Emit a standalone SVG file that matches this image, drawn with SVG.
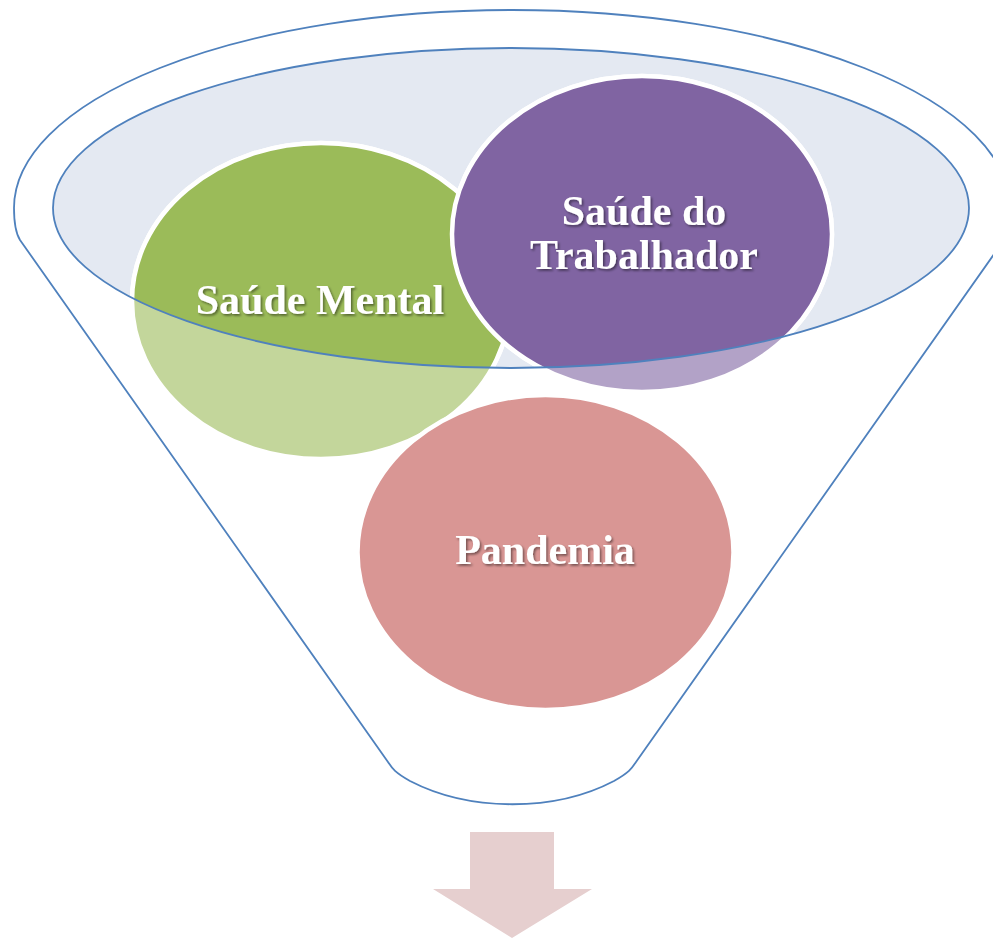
<svg xmlns="http://www.w3.org/2000/svg" width="993" height="938" viewBox="0 0 993 938">
  <defs>
    <style>
      .outline { fill: none; stroke: #4F81BD; stroke-width: 1.8; }
      .ring { stroke: #FFFFFF; stroke-width: 4.5; }
      .label { font-family: "Liberation Serif", "Times New Roman", serif; font-weight: bold; font-size: 42px; fill: #FFFFFF; text-anchor: middle; filter: url(#shadow); }
    </style>
    <clipPath id="topClip">
      <ellipse cx="511" cy="208" rx="458" ry="160"/>
    </clipPath>
    <filter id="shadow" x="-10%" y="-20%" width="120%" height="150%">
      <feDropShadow dx="1.6" dy="1.8" stdDeviation="1" flood-color="#000000" flood-opacity="0.45"/>
    </filter>
  </defs>
  <rect width="993" height="938" fill="#FFFFFF"/>

  <g id="funnel">
    <path class="outline" d="M 20,240 C 15,232 14,222 14,208 A 498,198 0 0 1 1010,208 C 1010,222 1009,232 1004,240 L 636,762 C 632,768 630,772 614,781 C 555,812 470,812 410,781 C 394,772 392,768 388,762 Z"/>
    <ellipse id="funnel-top" cx="511" cy="208" rx="458" ry="160" fill="#E4E9F2"/>
  </g>

  <g id="node-saude-mental-base">
    <ellipse class="ring" cx="321" cy="301" rx="189" ry="158" fill="#C3D69B"/>
  </g>
  <g id="node-saude-trabalhador-base">
    <ellipse class="ring" cx="642" cy="234" rx="190" ry="158" fill="#B2A2C7"/>
  </g>
  <g id="node-pandemia">
    <ellipse class="ring" cx="545.5" cy="552.5" rx="188" ry="157.5" fill="#D99694"/>
    <text class="label" x="545" y="564">Pandemia</text>
  </g>

  <g id="node-overlap" clip-path="url(#topClip)">
    <ellipse class="ring" cx="321" cy="301" rx="189" ry="158" fill="#9BBB59"/>
    <ellipse class="ring" cx="642" cy="234" rx="190" ry="158" fill="#8064A2"/>
  </g>

  <g id="funnel-rim">
    <ellipse class="outline" cx="511" cy="208" rx="458" ry="160"/>
  </g>

  <g id="node-saude-mental">
    <text class="label" x="320" y="314">Saúde Mental</text>
  </g>
  <g id="node-saude-trabalhador">
    <text class="label" x="644" y="225">Saúde do</text>
    <text class="label" x="644" y="269">Trabalhador</text>
  </g>

  <g id="connectors">
    <path d="M 470,832 L 554,832 L 554,889 L 592,889 L 512,938 L 433,889 L 470,889 Z" fill="#E6CFCF"/>
  </g>
</svg>
